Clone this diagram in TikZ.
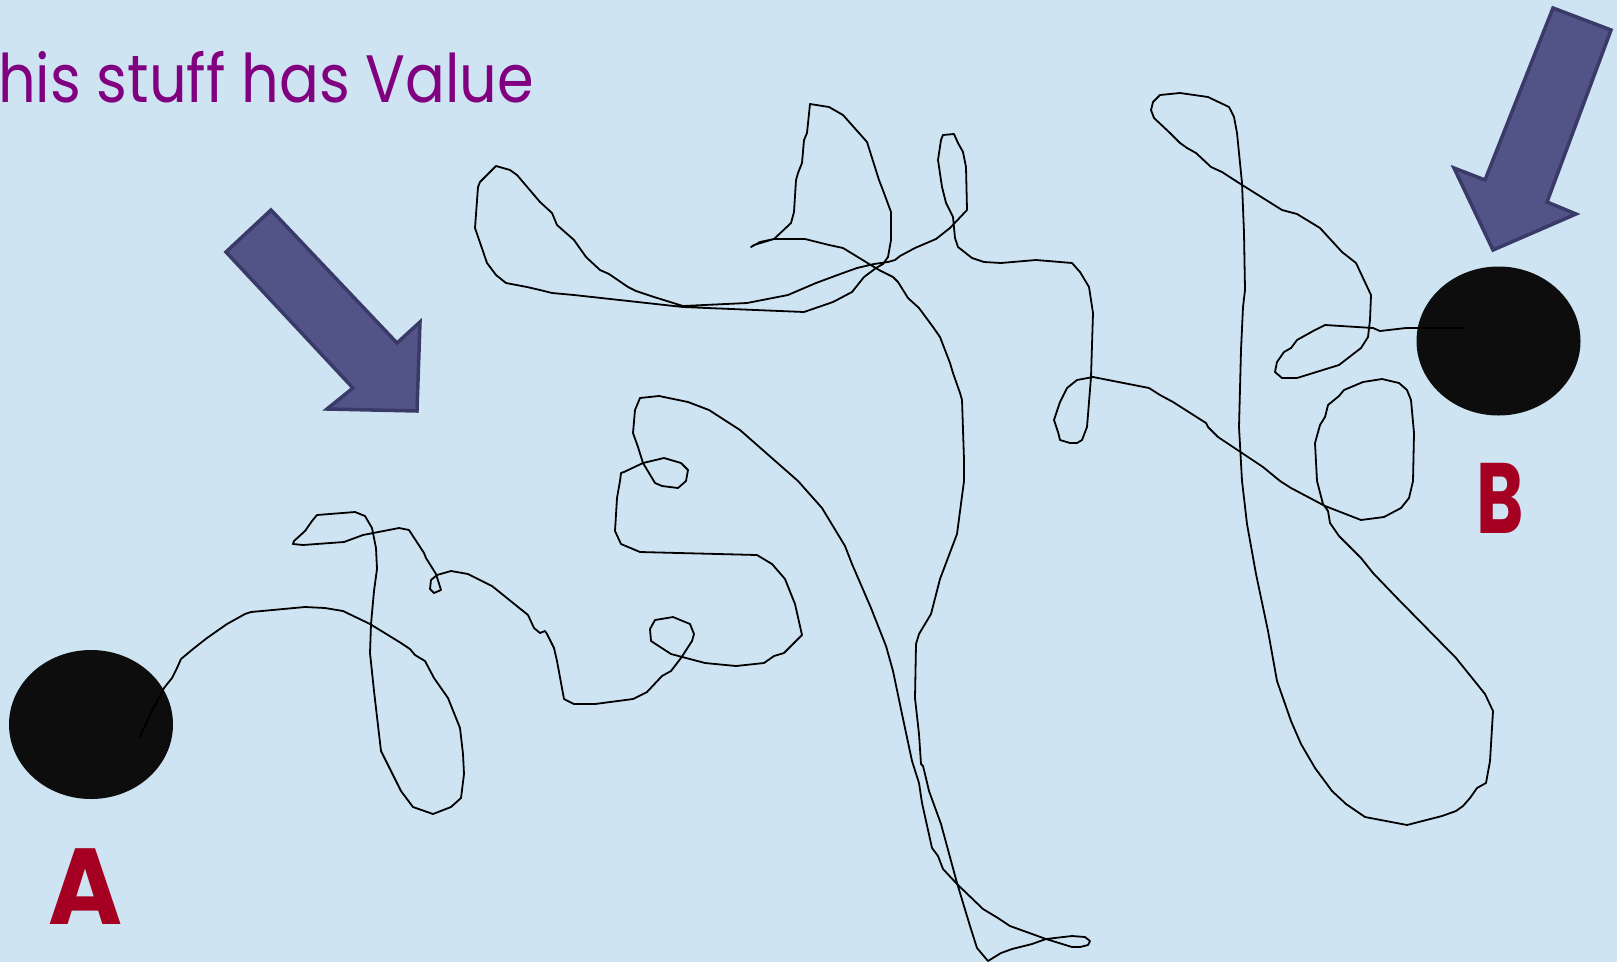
\documentclass[tikz,border=0pt]{standalone}
\usepackage{fontspec}
\setmainfont{Poppins}
\usetikzlibrary{shapes.geometric}
\definecolor{bgblue}{RGB}{207,228,242}
\definecolor{arrowfill}{RGB}{82,84,136}
\definecolor{arrowline}{RGB}{58,58,104}
\definecolor{titlepurple}{RGB}{128,0,128}
\definecolor{labred}{RGB}{165,0,33}
\definecolor{dotblack}{RGB}{13,13,13}
\tikzset{
  bigarrow/.style={fill=arrowfill, draw=arrowline, line width=3.5pt, line join=miter},
  dot/.style={ellipse, fill=dotblack, inner sep=0pt, minimum width=164pt, minimum height=149pt},
  lab/.style={text=labred, inner sep=0pt, anchor=base, text depth=0pt},
  wire/.style={draw=black, line width=1.8pt, line join=round, line cap=round}
}
\begin{document}
\begin{tikzpicture}[x=1pt,y=-1pt]
\useasboundingbox (0,0) rectangle (1617,962);
\fill[bgblue] (0,0) rectangle (1617,962);
\clip (0,0) rectangle (1617,962);

% title
\node[anchor=base west, inner sep=0pt, text=titlepurple, xscale=0.88, font=\fontsize{67}{80}\selectfont] (title) at (-2,102) {his stuff has Value};

% arrows
\draw[bigarrow] (271,210) -- (397,343) -- (420,322) -- (417,411) -- (327,409) -- (353,388) -- (226,252) -- cycle;
\draw[bigarrow] (1553,8) -- (1611,30) -- (1547,202) -- (1576,214) -- (1493,250) -- (1454,168) -- (1485,180) -- cycle;

% dots
\node[dot] (dotA) at (91,724.5) {};
\node[dot] (dotB) at (1498.5,341) {};

% labels
\node[lab, xscale=0.93, font=\bfseries\fontsize{108}{128}\selectfont] (labA) at (85.5,924) {A};
\node[lab, xscale=0.72, font=\bfseries\fontsize{100}{120}\selectfont] (labB) at (1500,533) {B};

% squiggle
\coordinate (pA) at (139,738);
\coordinate (pB) at (1464,328);
\draw[wire] (pA) -- (152,711) -- (164,688) -- (172,678) -- (177,668) -- (181,659) -- (193,649) -- (207,638) -- (227,624) -- (245,614) -- (251,612) -- (305,607) -- (325,608) -- (343,611) -- (370,624) -- (401,643) -- (410,649) -- (415,655) -- (425,661) -- (434,678) -- (448,698) -- (460,728) -- (463,754) -- (464,774) -- (461,798) -- (451,807) -- (433,814) -- (413,807) -- (401,791) -- (391,771) -- (381,751) -- (379,734) -- (374,691) -- (370,653) -- (371,624) -- (374,591) -- (377,569) -- (376,548) -- (372,528) -- (365,516) -- (355,512) -- (317,515) -- (312,521) -- (305,531) -- (294,541) -- (293,544) -- (303,545) -- (344,542) -- (363,535) -- (399,528) -- (409,530) -- (424,553) -- (426,558) -- (436,574) -- (441,590) -- (434,593) -- (430,589) -- (431,580) -- (437,575) -- (451,571) -- (468,574) -- (492,586) -- (528,615) -- (534,628) -- (540,633) -- (545,631) -- (547,634) -- (554,648) -- (557,661) -- (564,699) -- (574,704) -- (595,704) -- (633,699) -- (647,692) -- (662,676) -- (671,671) -- (681,658) -- (692,641) -- (694,634) -- (690,624) -- (673,617) -- (655,620) -- (650,629) -- (651,641) -- (671,654) -- (705,663) -- (736,666) -- (764,663) -- (774,656) -- (784,653) -- (802,635) -- (795,604) -- (785,579) -- (772,564) -- (757,555) -- (640,552) -- (621,544) -- (615,531) -- (617,498) -- (620,481) -- (621,473) -- (624,472) -- (643,463) -- (664,458) -- (681,463) -- (688,470) -- (686,481) -- (678,488) -- (662,486) -- (655,483) -- (643,463) -- (638,447) -- (633,433) -- (635,410) -- (640,398) -- (659,396) -- (688,402) -- (709,410) -- (740,430) -- (798,481) -- (822,508) -- (845,546) -- (852,564) -- (871,608) -- (886,646) -- (893,671) -- (902,714) -- (912,761) -- (919,783) -- (922,803) -- (926,821) -- (932,848) -- (938,856) -- (943,869) -- (957,884) -- (983,909) -- (998,918) -- (1010,926) -- (1046,939) -- (1072,947) -- (1080,947) -- (1088,945) -- (1090,941) -- (1085,937) -- (1072,936) -- (1046,939) -- (1032,944) -- (1012,949) -- (1001,953) -- (988,961) -- (977,948) -- (970,926) -- (957,883) -- (941,824) -- (929,791) -- (925,774) -- (923,766) -- (921,764) -- (919,734) -- (915,698) -- (916,644) -- (919,634) -- (931,614) -- (940,579) -- (957,534) -- (964,481) -- (964,460) -- (962,400) -- (960,393) -- (953,373) -- (950,363) -- (940,337) -- (933,327) -- (919,308) -- (908,298) -- (898,282) -- (893,277) -- (879,270) -- (843,248) -- (829,245) -- (805,239) -- (774,239) -- (760,242) -- (751,247) -- (754,245) -- (774,239) -- (791,223) -- (794,212) -- (796,180) -- (798,173) -- (802,163) -- (804,140) -- (807,133) -- (810,104) -- (829,107) -- (843,115) -- (867,142) -- (879,180) -- (884,193) -- (891,212) -- (891,240) -- (888,257) -- (883,264) -- (876,268) -- (864,277) -- (852,292) -- (833,302) -- (804,312) -- (683,307) -- (574,295) -- (552,293) -- (540,290) -- (527,287) -- (506,283) -- (496,275) -- (487,263) -- (475,228) -- (478,187) -- (480,182) -- (496,166) -- (510,170) -- (517,175) -- (540,202) -- (552,213) -- (557,225) -- (574,240) -- (586,257) -- (600,270) -- (609,274) -- (628,287) -- (636,291) -- (654,297) -- (683,306) -- (747,303) -- (788,295) -- (816,283) -- (843,273) -- (857,268) -- (874,264) -- (888,262) -- (895,260) -- (900,256) -- (915,248) -- (936,239) -- (950,228) -- (967,210) -- (966,167) -- (963,152) -- (958,143) -- (954,134) -- (943,135) -- (941,140) -- (938,160) -- (942,187) -- (946,203) -- (953,217) -- (955,238) -- (958,247) -- (972,258) -- (984,262) -- (1001,263) -- (1036,260) -- (1072,263) -- (1080,272) -- (1089,287) -- (1093,313) -- (1091,377) -- (1087,427) -- (1082,440) -- (1077,443) -- (1070,443) -- (1060,440) -- (1058,432) -- (1054,420) -- (1060,402) -- (1067,388) -- (1077,380) -- (1093,377) -- (1149,388) -- (1160,395) -- (1173,402) -- (1206,423) -- (1208,427) -- (1218,437) -- (1263,467) -- (1280,481) -- (1291,488) -- (1325,506) -- (1361,520) -- (1384,517) -- (1401,508) -- (1409,498) -- (1413,481) -- (1414,433) -- (1411,400) -- (1407,390) -- (1399,383) -- (1382,379) -- (1363,382) -- (1344,390) -- (1339,396) -- (1328,405) -- (1325,417) -- (1320,425) -- (1315,443) -- (1317,481) -- (1323,504) -- (1328,511) -- (1330,523) -- (1339,536) -- (1361,558) -- (1373,573) -- (1397,598) -- (1456,658) -- (1485,694) -- (1493,711) -- (1490,761) -- (1486,783) -- (1477,788) -- (1470,798) -- (1463,806) -- (1456,811) -- (1442,816) -- (1407,825) -- (1365,817) -- (1346,804) -- (1332,791) -- (1315,768) -- (1301,744) -- (1291,721) -- (1277,681) -- (1268,631) -- (1256,574) -- (1247,524) -- (1244,498) -- (1242,481) -- (1239,427) -- (1241,350) -- (1243,307) -- (1245,290) -- (1244,233) -- (1242,183) -- (1237,133) -- (1234,117) -- (1229,107) -- (1208,97) -- (1180,93) -- (1160,95) -- (1153,102) -- (1151,110) -- (1154,118) -- (1170,133) -- (1180,143) -- (1187,148) -- (1196,153) -- (1211,167) -- (1222,172) -- (1239,183) -- (1282,210) -- (1297,214) -- (1320,228) -- (1342,252) -- (1356,263) -- (1363,278) -- (1371,295) -- (1370,320) -- (1368,337) -- (1361,348) -- (1339,365) -- (1297,378) -- (1282,378) -- (1275,372) -- (1277,362) -- (1284,352) -- (1291,348) -- (1297,340) -- (1315,330) -- (1325,325) -- (1373,328) -- (1380,331) -- (1406,328) -- (pB);
\end{tikzpicture}
\end{document}
